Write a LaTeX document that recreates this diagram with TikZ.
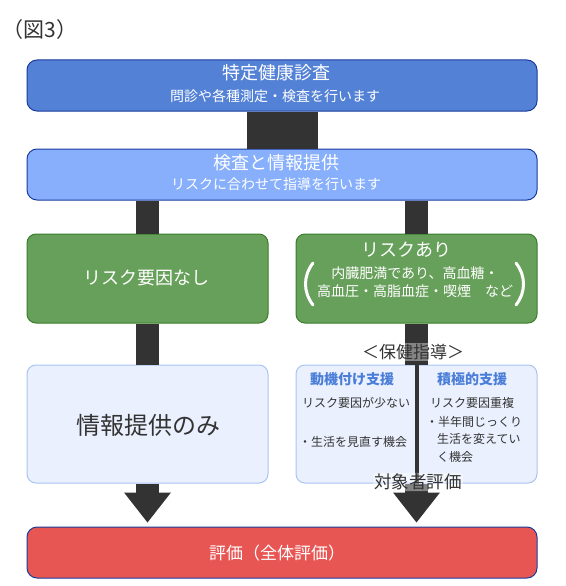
\documentclass[tikz,border=0pt]{standalone}
\usepackage{fontspec}
\setmainfont{Noto Sans CJK JP}
\usetikzlibrary{calc}
\definecolor{kenshinblue}{HTML}{5381D6}
\definecolor{johoblue}{HTML}{87AFFC}
\definecolor{edgeblue}{HTML}{1A3C9C}
\definecolor{riskgreen}{HTML}{67A05A}
\definecolor{edgegreen}{HTML}{3A7D2A}
\definecolor{infofill}{HTML}{EAF0FD}
\definecolor{infoedge}{HTML}{A9C4F2}
\definecolor{hyokared}{HTML}{E85654}
\definecolor{shaftgray}{HTML}{333333}
\definecolor{labelblue}{HTML}{4A7ED8}
\newcommand\fsz[1]{\fontsize{#1}{#1}\selectfont}
\tikzset{
  bigbox/.style={draw=edgeblue, line width=1pt, rounded corners=10pt, minimum width=510pt, minimum height=51pt, inner sep=0pt},
  halfbox/.style={line width=1pt, rounded corners=9pt, minimum width=241pt, inner sep=0pt},
  greenbox/.style={halfbox, draw=edgegreen, fill=riskgreen, minimum height=89pt},
  infobox/.style={halfbox, draw=infoedge, fill=infofill, minimum height=118pt},
  shaft/.style={draw=shaftgray, line width=23pt},
  wideshaft/.style={draw=shaftgray, line width=71pt},
  thinshaft/.style={draw=shaftgray, line width=4pt},
  whitetext/.style={text=white, inner sep=0pt},
  graytext/.style={text=shaftgray, inner sep=0pt},
  halo/.style={graytext, fill=white, fill opacity=0.4, text opacity=1, inner sep=1pt, rounded corners=3pt},
  planhead/.style={text=labelblue, font=\fsz{14}\bfseries, inner sep=0pt},
  plantext/.style={graytext, anchor=west, font=\fsz{12}},
}
\def\blockhead(#1){\fill[shaftgray] ($(#1)+(-23.5,-30)$) -- ($(#1)+(23.5,-30)$) -- (#1) -- cycle;}

\begin{document}
\begin{tikzpicture}[x=1pt, y=-1pt]
  \useasboundingbox (0,0) rectangle (565,586);

  \node[graytext, font=\fsz{21}] (zu) at (40, 30) {（図3）};

  % boxes
  \node[bigbox, fill=kenshinblue] (kenshin) at (282, 85.5) {};
  \node[bigbox, fill=johoblue] (joho) at (282, 174.5) {};
  \node[greenbox] (nashi) at (147.5, 278.5) {};
  \node[greenbox] (ari) at (416.5, 278.5) {};
  \node[infobox] (info) at (147.5, 424) {};
  \node[infobox] (shido) at (416.5, 424) {};
  \node[bigbox, fill=hyokared] (hyoka) at (282, 552.5) {};

  % shafts
  \draw[wideshaft] (kenshin.south) -- (joho.north);
  \draw[shaft] (nashi.north |- joho.south) -- (nashi.north);
  \draw[shaft] (ari.north |- joho.south) -- (ari.north);
  \draw[shaft] (nashi.south) -- (info.north);
  \draw[shaft] (ari.south) -- (shido.north);
  \draw[thinshaft] (shido.north) -- (shido.south);

  \coordinate (tipL) at ($(info.south |- hyoka.north)+(0,-4)$);
  \coordinate (tipR) at ($(shido.south |- hyoka.north)+(0,-4)$);
  \draw[shaft] (info.south) -- ($(tipL)+(0,-29)$);
  \draw[shaft] (shido.south) -- ($(tipR)+(0,-29)$);
  \blockhead(tipL)
  \blockhead(tipR)

  % texts
  \node[whitetext, font=\fsz{18}] (kenshintitle) at (276, 73) {特定健康診査};
  \node[whitetext, font=\fsz{14}] (kenshinsub) at (275, 96) {問診や各種測定・検査を行います};
  \node[whitetext, font=\fsz{18}] (johotitle) at (276, 163) {検査と情報提供};
  \node[whitetext, font=\fsz{14}] (johosub) at (276, 184) {リスクに合わせて指導を行います};

  \node[whitetext, font=\fsz{18}] (nashitext) at (146, 278) {リスク要因なし};
  \node[whitetext, font=\fsz{18}] (aritext) at (406, 250) {リスクあり};
  \node[whitetext, font=\fsz{14}] (arione) at (415, 273) {内臓肥満であり、高血糖・};
  \node[whitetext, font=\fsz{14}] (aritwo) at (415, 291) {高血圧・高脂血症・喫煙　など};
  \draw[white, line width=3pt, line cap=round] (313,263) .. controls (303,276) and (303,292) .. (313,305);
  \draw[white, line width=3pt, line cap=round] (516,263) .. controls (526,276) and (526,292) .. (516,305);

  \node[graytext, font=\fsz{24}] (infotext) at (148, 425) {情報提供のみ};

  \node[planhead] (doki) at (352, 379) {動機付け支援};
  \node[planhead] (sekkyoku) at (472, 379) {積極的支援};
  \node[plantext] (dokione) at (302, 403) {リスク要因が少ない};
  \node[plantext] (dokitwo) at (299, 442) {・生活を見直す機会};
  \node[plantext] (sekone) at (430, 403) {リスク要因重複};
  \node[plantext] (sektwo) at (426, 422) {・半年間じっくり};
  \node[plantext] (sekthree) at (437, 439) {生活を変えてい};
  \node[plantext] (sekfour) at (437, 457) {く機会};

  \node[halo, font=\fsz{17}] (hoken) at (413, 352) {＜保健指導＞};
  \node[halo, font=\fsz{17.5}] (taisho) at (418, 482) {対象者評価};

  \node[whitetext, font=\fsz{17}] (hyokatext) at (277, 553) {評価（全体評価）};
\end{tikzpicture}
\end{document}
